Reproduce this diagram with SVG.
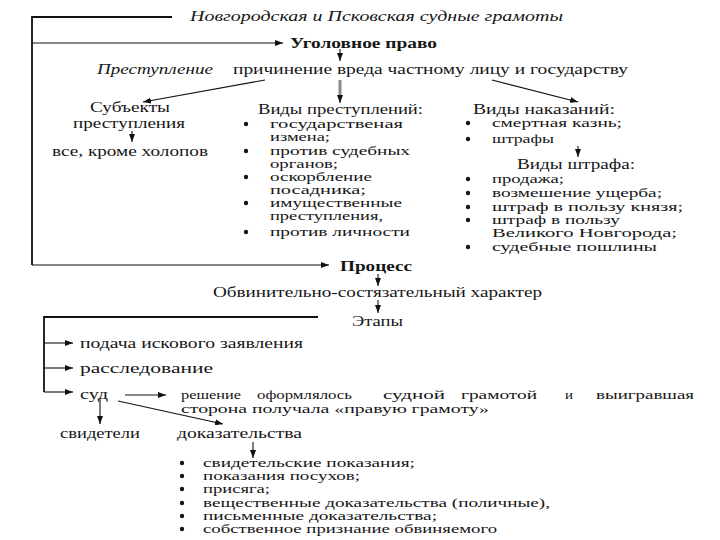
<svg xmlns="http://www.w3.org/2000/svg" width="720" height="540" viewBox="0 0 720 540">
<defs>
<marker id="ah" viewBox="0 0 8 6" refX="8" refY="3" markerWidth="8" markerHeight="6" markerUnits="userSpaceOnUse" orient="auto">
<path d="M0,0 L8,3 L0,6 z" fill="#111"/>
</marker>
</defs>
<style>
text{font-family:"Liberation Serif","Times New Roman",serif;font-size:14px;fill:#161616}
.s{font-size:12px}
.it{font-style:italic}
.b{font-weight:bold}
.br{fill:none;stroke:#111;stroke-width:1.8}
.ar{fill:none;stroke:#111;stroke-width:1.1;marker-end:url(#ah)}
.bu{fill:#161616}
</style>
<rect width="720" height="540" fill="#fff"/>
<g id="connectors">
<polyline class="br" points="172,17 32,17 32,265"/>
<line class="ar" x1="32" y1="43" x2="283" y2="43"/>
<line class="ar" x1="340" y1="49" x2="340" y2="61"/>
<line class="ar" x1="265" y1="80" x2="143" y2="102"/>
<line x1="340" y1="80" x2="340" y2="96" stroke="#8a8a8a" stroke-width="3"/>
<line class="ar" x1="340" y1="95" x2="340" y2="103"/>
<line class="ar" x1="492" y1="80" x2="578" y2="102"/>
<line class="ar" x1="132" y1="131" x2="132" y2="142"/>
<line class="ar" x1="578" y1="146" x2="578" y2="157"/>
<line class="ar" x1="32" y1="265" x2="329" y2="265"/>
<line class="ar" x1="378" y1="274" x2="378" y2="286"/>
<line class="ar" x1="378" y1="300" x2="378" y2="313"/>
<polyline class="br" points="318,317 44,317 44,392"/>
<line class="ar" x1="44" y1="343" x2="73" y2="343"/>
<line class="ar" x1="44" y1="368" x2="73" y2="368"/>
<line class="ar" x1="44" y1="392" x2="73" y2="392"/>
<line class="ar" x1="125" y1="395" x2="166" y2="395"/>
<line class="ar" x1="100" y1="399" x2="100" y2="424"/>
<line class="ar" x1="118" y1="401" x2="223" y2="424"/>
<line class="ar" x1="253" y1="442" x2="253" y2="458"/>
</g>
<g id="title"><text class="it" x="190" y="21" textLength="373" lengthAdjust="spacingAndGlyphs">Новгородская и Псковская судные грамоты</text></g>
<g id="criminal-law"><text class="b" x="290" y="48" textLength="147" lengthAdjust="spacingAndGlyphs">Уголовное право</text></g>
<g id="crime">
<text class="it" x="97" y="74" textLength="116" lengthAdjust="spacingAndGlyphs">Преступление</text>
<text x="233" y="74" textLength="395" lengthAdjust="spacingAndGlyphs">причинение вреда частному лицу и государству</text>
</g>
<g id="subjects">
<text x="90" y="112" textLength="80" lengthAdjust="spacingAndGlyphs">Субъекты</text>
<text x="73" y="128" textLength="112" lengthAdjust="spacingAndGlyphs">преступления</text>
<text x="52" y="156" textLength="156" lengthAdjust="spacingAndGlyphs">все, кроме холопов</text>
</g>
<g id="crime-types">
<text x="258" y="114" textLength="165" lengthAdjust="spacingAndGlyphs">Виды преступлений:</text>
<circle class="bu" cx="246" cy="124" r="2.2"/><circle class="bu" cx="246" cy="151" r="2.2"/><circle class="bu" cx="246" cy="177" r="2.2"/><circle class="bu" cx="246" cy="203" r="2.2"/><circle class="bu" cx="246" cy="232" r="2.2"/>
<text class="s" x="270" y="128" textLength="133" lengthAdjust="spacingAndGlyphs">государственая</text>
<text class="s" x="270" y="141" textLength="60" lengthAdjust="spacingAndGlyphs">измена;</text>
<text class="s" x="270" y="155" textLength="140" lengthAdjust="spacingAndGlyphs">против судебных</text>
<text class="s" x="270" y="168" textLength="68" lengthAdjust="spacingAndGlyphs">органов;</text>
<text class="s" x="270" y="181" textLength="102" lengthAdjust="spacingAndGlyphs">оскорбление</text>
<text class="s" x="270" y="194" textLength="96" lengthAdjust="spacingAndGlyphs">посадника;</text>
<text class="s" x="270" y="207" textLength="132" lengthAdjust="spacingAndGlyphs">имущественные</text>
<text class="s" x="270" y="220" textLength="113" lengthAdjust="spacingAndGlyphs">преступления,</text>
<text class="s" x="270" y="236" textLength="140" lengthAdjust="spacingAndGlyphs">против личности</text>
</g>
<g id="punishments">
<text x="473" y="114" textLength="142" lengthAdjust="spacingAndGlyphs">Виды наказаний:</text>
<circle class="bu" cx="468" cy="123" r="2.2"/><circle class="bu" cx="468" cy="139" r="2.2"/>
<text class="s" x="492" y="127" textLength="130" lengthAdjust="spacingAndGlyphs">смертная казнь;</text>
<text class="s" x="492" y="143" textLength="62" lengthAdjust="spacingAndGlyphs">штрафы</text>
</g>
<g id="fine-types">
<text x="517" y="169" textLength="118" lengthAdjust="spacingAndGlyphs">Виды штрафа:</text>
<circle class="bu" cx="468" cy="179" r="2.2"/><circle class="bu" cx="468" cy="193" r="2.2"/><circle class="bu" cx="468" cy="207" r="2.2"/><circle class="bu" cx="468" cy="220" r="2.2"/><circle class="bu" cx="468" cy="247" r="2.2"/>
<text class="s" x="492" y="183" textLength="72" lengthAdjust="spacingAndGlyphs">продажа;</text>
<text class="s" x="492" y="197" textLength="170" lengthAdjust="spacingAndGlyphs">возмешение ущерба;</text>
<text class="s" x="492" y="211" textLength="191" lengthAdjust="spacingAndGlyphs">штраф в пользу князя;</text>
<text class="s" x="492" y="224" textLength="128" lengthAdjust="spacingAndGlyphs">штраф в пользу</text>
<text class="s" x="492" y="237" textLength="185" lengthAdjust="spacingAndGlyphs">Великого Новгорода;</text>
<text class="s" x="492" y="251" textLength="165" lengthAdjust="spacingAndGlyphs">судебные пошлины</text>
</g>
<g id="process"><text class="b" x="340" y="271" textLength="72" lengthAdjust="spacingAndGlyphs">Процесс</text></g>
<g id="character"><text x="213" y="297" textLength="329" lengthAdjust="spacingAndGlyphs">Обвинительно-состязательный характер</text></g>
<g id="stages"><text x="352" y="326" textLength="51" lengthAdjust="spacingAndGlyphs">Этапы</text></g>
<g id="claim"><text x="80" y="348" textLength="223" lengthAdjust="spacingAndGlyphs">подача искового заявления</text></g>
<g id="investigation"><text x="80" y="373" textLength="133" lengthAdjust="spacingAndGlyphs">расследование</text></g>
<g id="court"><text x="80" y="399" textLength="28" lengthAdjust="spacingAndGlyphs">суд</text></g>
<g id="decision">
<text class="s" x="181" y="399" textLength="60" lengthAdjust="spacingAndGlyphs">решение</text>
<text class="s" x="257" y="399" textLength="95" lengthAdjust="spacingAndGlyphs">оформлялось</text>
<text class="s" x="383" y="399" textLength="62" lengthAdjust="spacingAndGlyphs">судной</text>
<text class="s" x="461" y="399" textLength="76" lengthAdjust="spacingAndGlyphs">грамотой</text>
<text class="s" x="565" y="399" textLength="8" lengthAdjust="spacingAndGlyphs">и</text>
<text class="s" x="596" y="399" textLength="98" lengthAdjust="spacingAndGlyphs">выигравшая</text>
<text class="s" x="181" y="413" textLength="308" lengthAdjust="spacingAndGlyphs">сторона получала «правую грамоту»</text>
</g>
<g id="witnesses"><text x="60" y="438" textLength="80" lengthAdjust="spacingAndGlyphs">свидетели</text></g>
<g id="evidence">
<text x="177" y="438" textLength="125" lengthAdjust="spacingAndGlyphs">доказательства</text>
<circle class="bu" cx="182" cy="463" r="2.2"/><circle class="bu" cx="182" cy="476" r="2.2"/><circle class="bu" cx="182" cy="489" r="2.2"/><circle class="bu" cx="182" cy="503" r="2.2"/><circle class="bu" cx="182" cy="516" r="2.2"/><circle class="bu" cx="182" cy="529" r="2.2"/>
<text class="s" x="203" y="467" textLength="212" lengthAdjust="spacingAndGlyphs">свидетельские показания;</text>
<text class="s" x="203" y="480" textLength="157" lengthAdjust="spacingAndGlyphs">показания посухов;</text>
<text class="s" x="203" y="493" textLength="67" lengthAdjust="spacingAndGlyphs">присяга;</text>
<text class="s" x="203" y="507" textLength="347" lengthAdjust="spacingAndGlyphs">вещественные доказательства (поличные),</text>
<text class="s" x="203" y="520" textLength="234" lengthAdjust="spacingAndGlyphs">письменные доказательства;</text>
<text class="s" x="203" y="533" textLength="294" lengthAdjust="spacingAndGlyphs">собственное признание обвиняемого</text>
</g>
</svg>
